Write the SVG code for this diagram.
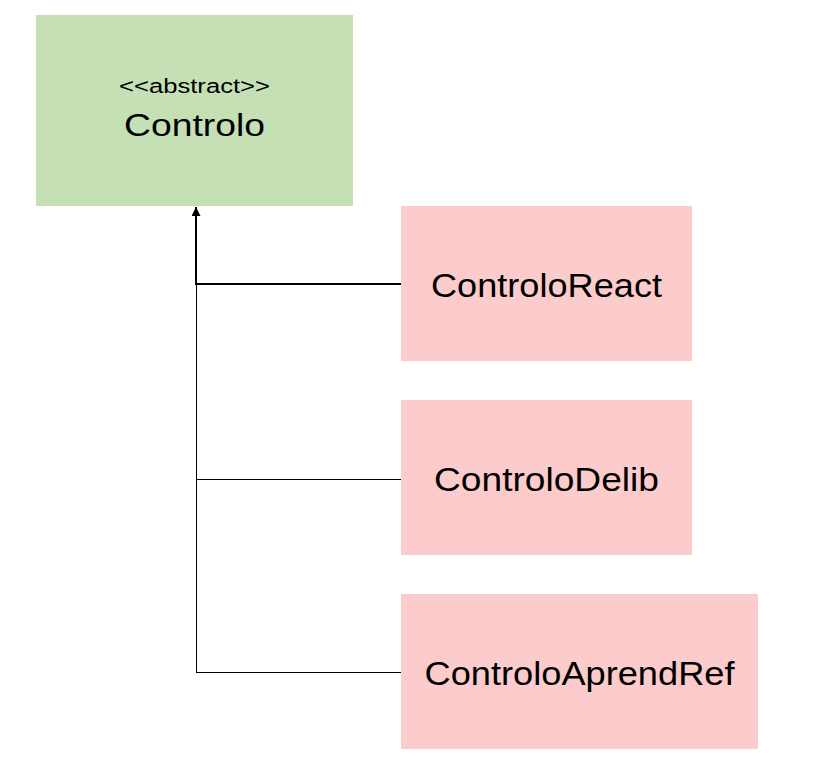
<svg xmlns="http://www.w3.org/2000/svg" width="813" height="769" viewBox="0 0 813 769">
<style>
.green{fill:#c5e0b4}
.pink{fill:#fccbcb}
.t{font-family:"Liberation Sans",Arial,sans-serif;fill:#000;text-anchor:middle}
.big{font-size:33px}
.thin{stroke:#000;stroke-width:1;fill:none}
.thick{stroke:#000;stroke-width:2;fill:none}
</style>
<defs>
<marker id="arr" viewBox="0 0 10 10" refX="10" refY="5" markerWidth="4.5" markerHeight="4.5" orient="auto" markerUnits="strokeWidth">
<path d="M0,0 L10,5 L0,10 z" fill="#000"/>
</marker>
</defs>
<rect width="813" height="769" fill="#fff"/>
<g id="connectors">
<line class="thin" x1="196.5" y1="284" x2="196.5" y2="672.5"/>
<line class="thin" x1="196" y1="479.5" x2="401" y2="479.5"/>
<line class="thin" x1="196" y1="672.5" x2="401" y2="672.5"/>
<polyline class="thick" points="401,284 196,284 196,207" marker-end="url(#arr)"/>
</g>
<g id="Controlo">
<rect class="green" x="36" y="15" width="317" height="191"/>
<text class="t" x="194.5" y="93" font-size="20" textLength="151" lengthAdjust="spacingAndGlyphs">&lt;&lt;abstract&gt;&gt;</text>
<text class="t" x="194.5" y="136" font-size="32" textLength="141" lengthAdjust="spacingAndGlyphs">Controlo</text>
</g>
<g id="ControloReact">
<rect class="pink" x="401" y="206" width="291" height="155"/>
<text class="t big" x="546.5" y="297" textLength="231" lengthAdjust="spacingAndGlyphs">ControloReact</text>
</g>
<g id="ControloDelib">
<rect class="pink" x="401" y="400" width="291" height="155"/>
<text class="t big" x="546.5" y="491" textLength="225" lengthAdjust="spacingAndGlyphs">ControloDelib</text>
</g>
<g id="ControloAprendRef">
<rect class="pink" x="401" y="594" width="357" height="155"/>
<text class="t big" x="579.5" y="685" textLength="310" lengthAdjust="spacingAndGlyphs">ControloAprendRef</text>
</g>
</svg>
